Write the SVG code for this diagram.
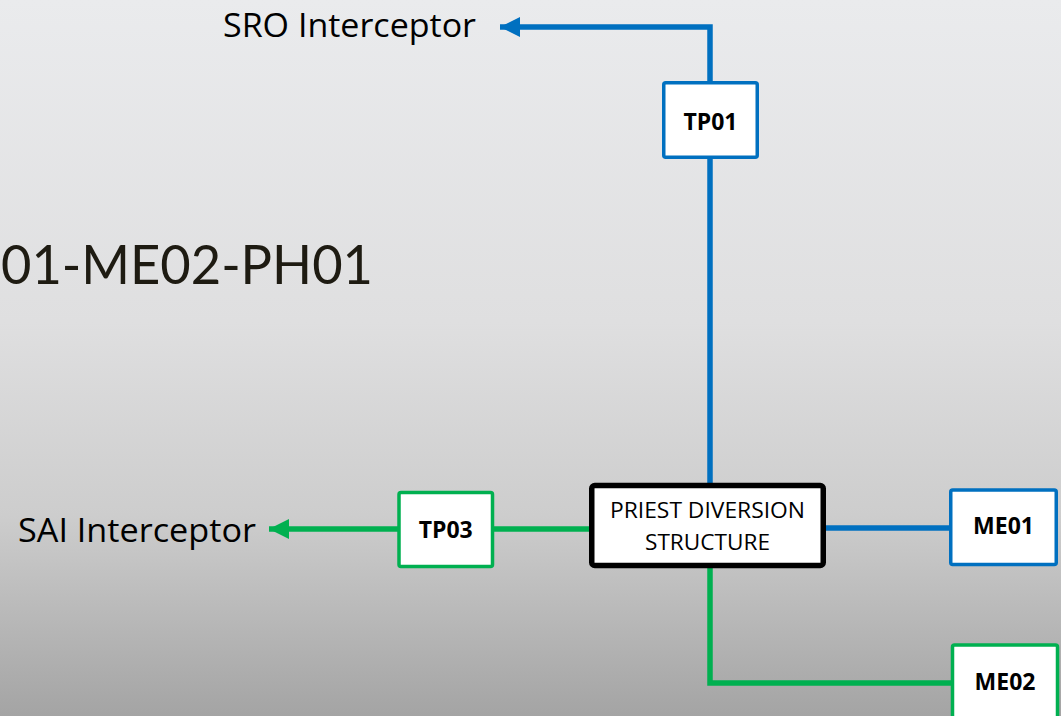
<svg xmlns="http://www.w3.org/2000/svg" width="1061" height="716" viewBox="0 0 1061 716">
  <defs>
    <linearGradient id="bg" x1="0" y1="0" x2="0" y2="1">
      <stop offset="0" stop-color="#eaebed"/>
      <stop offset="0.45" stop-color="#dfdfe0"/>
      <stop offset="0.72" stop-color="#cdcdcd"/>
      <stop offset="1" stop-color="#a4a4a4"/>
    </linearGradient>
    <marker id="arrBlue" markerUnits="userSpaceOnUse" markerWidth="22" markerHeight="22" refX="20" refY="10" orient="auto">
      <path d="M0,0 L20,10 L0,20 Z" fill="#0070c0"/>
    </marker>
    <marker id="arrGreen" markerUnits="userSpaceOnUse" markerWidth="22" markerHeight="22" refX="20" refY="10" orient="auto">
      <path d="M0,0 L20,10 L0,20 Z" fill="#00b050"/>
    </marker>
  </defs>
  <style>
    .blue { fill: none; stroke: #0070c0; stroke-width: 5.5; }
    .green { fill: none; stroke: #00b050; stroke-width: 5.5; }
    .boxB { fill: #ffffff; stroke: #0070c0; stroke-width: 3.5; }
    .boxG { fill: #ffffff; stroke: #00b050; stroke-width: 3.5; }
    .boxK { fill: #ffffff; stroke: #000000; stroke-width: 5.5; }
    .lbl { font-family: "Open Sans", "Noto Sans", sans-serif; font-weight: bold; font-size: 23px; fill: #000000; text-anchor: middle; }
    .main { font-family: "Open Sans", "Noto Sans", sans-serif; font-size: 22px; fill: #000000; text-anchor: middle; }
    .ext { font-family: "Open Sans", "Noto Sans", sans-serif; font-size: 33px; fill: #000000; }
    .title { font-family: "Lato", "Liberation Sans", sans-serif; font-size: 54px; fill: #1e1b12; }
  </style>
  <rect x="0" y="0" width="1061" height="716" fill="url(#bg)"/>

  <text class="title" x="1" y="284" textLength="372" lengthAdjust="spacingAndGlyphs">01-ME02-PH01</text>
  <text id="sro-label" class="ext" x="223" y="37" textLength="253" lengthAdjust="spacingAndGlyphs">SRO Interceptor</text>
  <text id="sai-label" class="ext" x="18" y="542" textLength="238" lengthAdjust="spacingAndGlyphs">SAI Interceptor</text>

  <g id="connectors">
    <path class="blue" d="M710,483 V27 H500" marker-end="url(#arrBlue)"/>
    <path class="blue" d="M826,528 H950"/>
    <path class="green" d="M589,529 H269" marker-end="url(#arrGreen)"/>
    <path class="green" d="M710,568 V683 H952"/>
  </g>

  <g id="TP01">
    <rect class="boxB" x="663.75" y="82.75" width="93.5" height="74.5" rx="2"/>
    <text class="lbl" x="710.5" y="130">TP01</text>
  </g>
  <g id="TP03">
    <rect class="boxG" x="399" y="492.5" width="93.5" height="74" rx="2"/>
    <text class="lbl" x="445.75" y="538">TP03</text>
  </g>
  <g id="ME01">
    <rect class="boxB" x="950.75" y="490" width="105.5" height="74.5" rx="2"/>
    <text class="lbl" x="1003.5" y="534">ME01</text>
  </g>
  <g id="ME02">
    <rect class="boxG" x="952.5" y="645" width="105" height="80" rx="2"/>
    <text class="lbl" x="1005" y="690">ME02</text>
  </g>
  <g id="PRIEST">
    <rect class="boxK" x="591.75" y="485.5" width="231.5" height="80" rx="3"/>
    <text class="main" x="707.5" y="518" textLength="195" lengthAdjust="spacingAndGlyphs">PRIEST DIVERSION</text>
    <text class="main" x="707.5" y="550" textLength="125" lengthAdjust="spacingAndGlyphs">STRUCTURE</text>
  </g>
</svg>
